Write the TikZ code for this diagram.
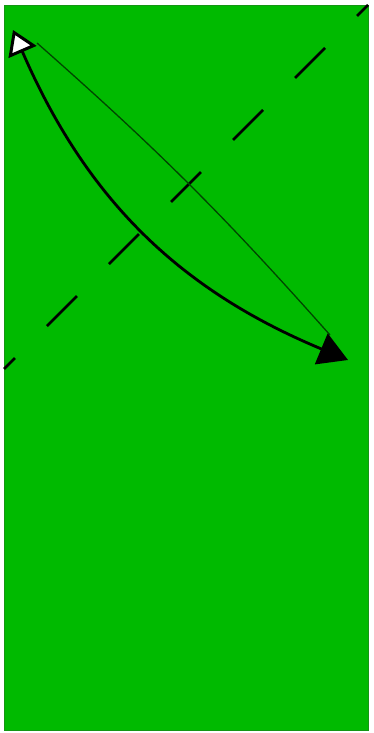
\documentclass[tikz,border=0pt]{standalone}
\usetikzlibrary{arrows.meta}
\definecolor{bggreen}{RGB}{0,186,0}
\definecolor{edgegreen}{RGB}{20,150,20}
\definecolor{thingreen}{RGB}{0,70,0}
\tikzset{
  panel/.style={fill=bggreen,draw=edgegreen,line width=0.6pt},
  dashline/.style={line width=2.8pt,dash pattern=on 42.4pt off 45.3pt,dash phase=26.9pt},
  thickarc/.style={line width=2.8pt,
    {Triangle[fill=white,line width=3pt,length=24pt,width=30pt]}-{Triangle[length=29pt,width=33pt]}},
  thinarc/.style={line width=1.3pt,draw=thingreen}
}
\begin{document}
\begin{tikzpicture}[x=1pt,y=1pt]
\useasboundingbox (0,0) rectangle (373,733);
\path[panel] (4,3) rectangle (368,728);
\coordinate (dA) at (368,728);
\coordinate (dB) at (4,364);
\draw[dashline] (dA) -- (dB);
\coordinate (a) at (37,690);
\coordinate (b) at (330,398);
\draw[thinarc] (a) to[bend left=3.5] (b);
\coordinate (s) at (13,703);
\coordinate (e) at (348,373);
\draw[thickarc] (s) to[bend right=22] (e);
\end{tikzpicture}
\end{document}
